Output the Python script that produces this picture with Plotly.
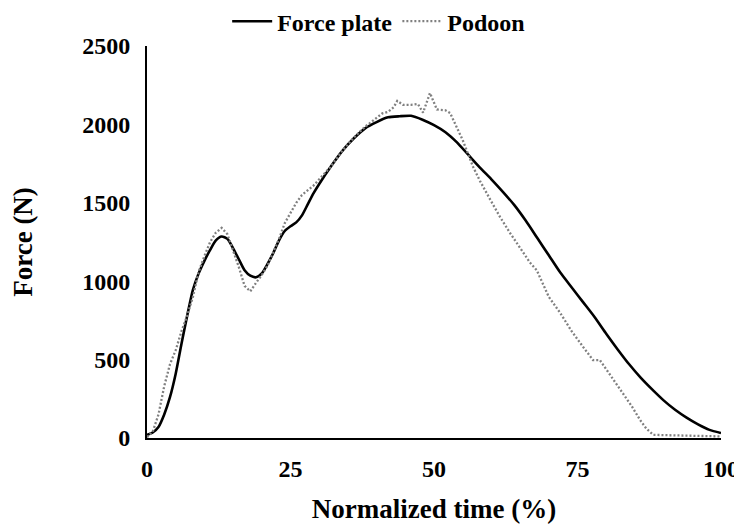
import plotly.graph_objects as go

# Force plate (solid) — normalized time (%) and force (N)
fp_time = [0, 1, 2, 3, 4, 5, 6, 7, 8, 9, 10, 11, 12, 13, 14, 15, 16, 17, 18, 19,
           20, 21, 22, 23, 24, 25, 26, 27, 28, 29, 30, 32, 34, 36, 38, 40, 42, 44,
           46, 48, 50, 52, 54, 56, 58, 60, 62, 64, 66, 68, 70, 72, 74, 76, 78, 80,
           82, 84, 86, 88, 90, 92, 94, 96, 98, 100]
fp_force = [20, 35, 70, 150, 260, 410, 600, 780, 945, 1050, 1130, 1200, 1260, 1285,
            1270, 1210, 1140, 1070, 1035, 1025, 1050, 1110, 1180, 1260, 1320, 1350,
            1375, 1420, 1490, 1560, 1620, 1730, 1830, 1910, 1975, 2015, 2045, 2052,
            2055, 2030, 1995, 1950, 1885, 1805, 1725, 1650, 1570, 1485, 1385, 1275,
            1165, 1055, 960, 865, 770, 665, 565, 470, 385, 310, 240, 180, 130, 87,
            52, 32]

# Podoon (dotted)
pd_time = [0, 1, 2, 3, 4, 5, 6, 7, 8, 9, 10, 11, 12, 13, 14, 15, 16, 17, 18, 19,
           20, 21, 22, 23, 24, 25, 26, 27, 28, 29, 30, 32, 34, 36, 38, 40, 41, 42,
           43, 43.6, 44.6, 46, 47.2, 48.1, 49.3, 50.5, 52, 52.8, 54, 55, 56.8, 58,
           59.8, 61.5, 63.2, 65, 66.7, 67.9, 70, 72, 74, 76, 77.7, 78.9, 80, 81.5,
           82.9, 84.5, 85.9, 87, 88.2, 90, 95, 100]
pd_force = [5, 40, 150, 330, 470, 560, 680, 780, 900, 1060, 1160, 1250, 1310, 1340,
            1300, 1200, 1090, 970, 935, 990, 1040, 1100, 1180, 1270, 1370, 1440,
            1500, 1550, 1580, 1610, 1650, 1730, 1830, 1915, 1985, 2040, 2070, 2080,
            2110, 2150, 2125, 2125, 2130, 2075, 2200, 2095, 2090, 2073, 1980, 1900,
            1730, 1640, 1520, 1410, 1310, 1210, 1120, 1070, 900, 797, 680, 580, 497,
            497, 440, 360, 287, 200, 115, 60, 20, 18, 15, 10]

x_ticks = [0, 25, 50, 75, 100]
y_ticks = [0, 500, 1000, 1500, 2000, 2500]

FONT = "Liberation Serif, Times New Roman, serif"

fig = go.Figure()
fig.add_trace(go.Scatter(x=fp_time, y=fp_force, mode="lines", name="Force plate",
                         line=dict(color="black", width=2.6, shape="spline", smoothing=0.6)))
fig.add_trace(go.Scatter(x=pd_time, y=pd_force, mode="lines", name="Podoon",
                         line=dict(color="#808080", width=2.3, dash="2px,2px")))

fig.update_layout(
    width=734, height=524,
    margin=dict(l=139, r=21, t=38, b=94, autoexpand=False),
    plot_bgcolor="white", paper_bgcolor="white",
    font=dict(family=FONT, color="black", size=24, weight="bold"),
    legend=dict(orientation="h", xref="container", yref="container",
                x=0.505, y=0.974, xanchor="center", yanchor="middle",
                font=dict(family=FONT, size=24, weight="bold"),
                bgcolor="rgba(0,0,0,0)", itemwidth=40, tracegroupgap=0),
    xaxis=dict(range=[0, 100], tickvals=x_ticks, showgrid=False, zeroline=False,
               showline=True, linecolor="black", linewidth=2, ticks="",
               ticklabelstandoff=8,
               tickfont=dict(family=FONT, size=24, weight="bold"),
               title=dict(text="Normalized time (%)", standoff=18,
                          font=dict(family=FONT, size=27, weight="bold"))),
    yaxis=dict(range=[0, 2500], tickvals=y_ticks, showgrid=False, zeroline=False,
               showline=True, linecolor="black", linewidth=2, ticks="",
               ticklabelstandoff=10,
               tickfont=dict(family=FONT, size=24, weight="bold"),
               title=dict(text="Force (N)", standoff=42,
                          font=dict(family=FONT, size=27, weight="bold"))),
)

fig.write_html("out.html")
